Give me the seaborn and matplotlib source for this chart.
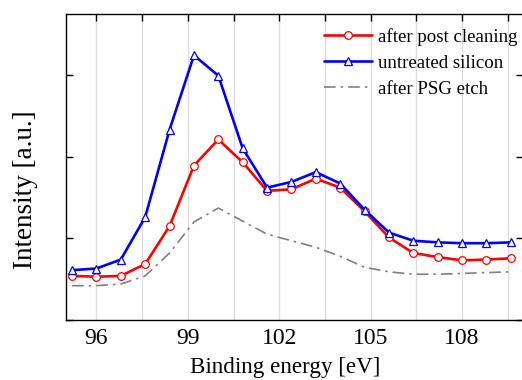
import numpy as np
import pandas as pd
import matplotlib
matplotlib.use("Agg")
import matplotlib.pyplot as plt
import seaborn as sns
from matplotlib.ticker import MultipleLocator

# Binding energy grid (eV)
energy = [95.2, 96.0, 96.8, 97.6, 98.4, 99.2, 100.0, 100.8, 101.6, 102.4,
          103.2, 104.0, 104.8, 105.6, 106.4, 107.2, 108.0, 108.8, 109.6]

# Intensities (arbitrary units)
post_cleaning = [0.54, 0.53, 0.54, 0.685, 1.15, 1.89, 2.21, 1.93, 1.58, 1.60,
                 1.73, 1.62, 1.33, 1.01, 0.82, 0.77, 0.73, 0.74, 0.755]
untreated = [0.61, 0.63, 0.74, 1.26, 2.33, 3.24, 2.99, 2.10, 1.62, 1.69,
             1.81, 1.67, 1.35, 1.07, 0.97, 0.95, 0.94, 0.94, 0.95]
psg_etch = [0.42, 0.42, 0.44, 0.54, 0.82, 1.20, 1.37, 1.21, 1.05, 0.97,
            0.89, 0.78, 0.645, 0.59, 0.56, 0.56, 0.57, 0.58, 0.59]

labels = ["after post cleaning", "untreated silicon", "after PSG etch"]
x_ticks = [96, 99, 102, 105, 108]

df = pd.DataFrame({
    "energy": energy * 3,
    "intensity": post_cleaning + untreated + psg_etch,
    "series": [labels[0]] * len(energy) + [labels[1]] * len(energy) + [labels[2]] * len(energy),
})

sns.set_style("white")
plt.rcParams["font.family"] = ["Liberation Serif", "DejaVu Serif"]
plt.rcParams["text.color"] = "black"
plt.rcParams["axes.labelcolor"] = "black"
plt.rcParams["xtick.color"] = "black"
plt.rcParams["ytick.color"] = "black"

fig = plt.figure(figsize=(5.22, 3.80), dpi=100)
ax = fig.add_axes([66 / 522, 60 / 380, 457 / 522, 306 / 380])

# light vertical grid every 1.5 eV
for gx in np.arange(96, 110, 1.5):
    ax.axvline(gx, color="#dcdcdc", lw=0.9, zorder=0)

sns.lineplot(data=df[df.series == labels[2]], x="energy", y="intensity",
             color="#808080", lw=1.2, ax=ax, label=labels[2], zorder=2)
ax.lines[-1].set_linestyle((0, (7, 3, 1.5, 3)))

sns.lineplot(data=df[df.series == labels[0]], x="energy", y="intensity",
             color="#ff0000", lw=1.9, marker="o", markersize=5.5,
             markerfacecolor="white", markeredgecolor="#ff0000",
             markeredgewidth=0.9, ax=ax, label=labels[0], zorder=3)

sns.lineplot(data=df[df.series == labels[1]], x="energy", y="intensity",
             color="#0000ff", lw=1.9, marker="^", markersize=6,
             markerfacecolor="white", markeredgecolor="#0000ff",
             markeredgewidth=0.9, ax=ax, label=labels[1], zorder=4)

ax.set_xlim(95, 110)
ax.set_ylim(0, 3.745)
ax.set_xticks(x_ticks)
ax.xaxis.set_minor_locator(MultipleLocator(1.5))
ax.set_yticks([0, 1, 2, 3])
ax.set_yticklabels([])
ax.tick_params(axis="both", which="both", direction="in", top=True, right=True,
               length=5, width=1.0, color="black")
ax.tick_params(axis="x", which="major", labelsize=17, pad=6)
ax.tick_params(axis="y", which="both", left=True, right=True)

for sp in ax.spines.values():
    sp.set_color("black")
    sp.set_linewidth(1.0)

ax.set_xlabel("Binding energy [eV]", fontsize=16.6)
ax.xaxis.set_label_coords((285 - 66) / 457, -37 / 306)
ax.set_ylabel("Intensity [a.u.]", fontsize=19.5)
ax.yaxis.set_label_coords(-28 / 457, (320 - 190) / 306)

handles, hl = ax.get_legend_handles_labels()
order = [hl.index(l) for l in labels]
leg = ax.legend([handles[i] for i in order], [hl[i] for i in order],
                loc="upper left", bbox_to_anchor=(258 / 457, 1 - 14 / 306),
                frameon=False, fontsize=13.6, handlelength=2.55,
                handletextpad=0.3, labelspacing=0.47, borderaxespad=0.0,
                borderpad=0.0)

fig.savefig("out.png", dpi=100)
